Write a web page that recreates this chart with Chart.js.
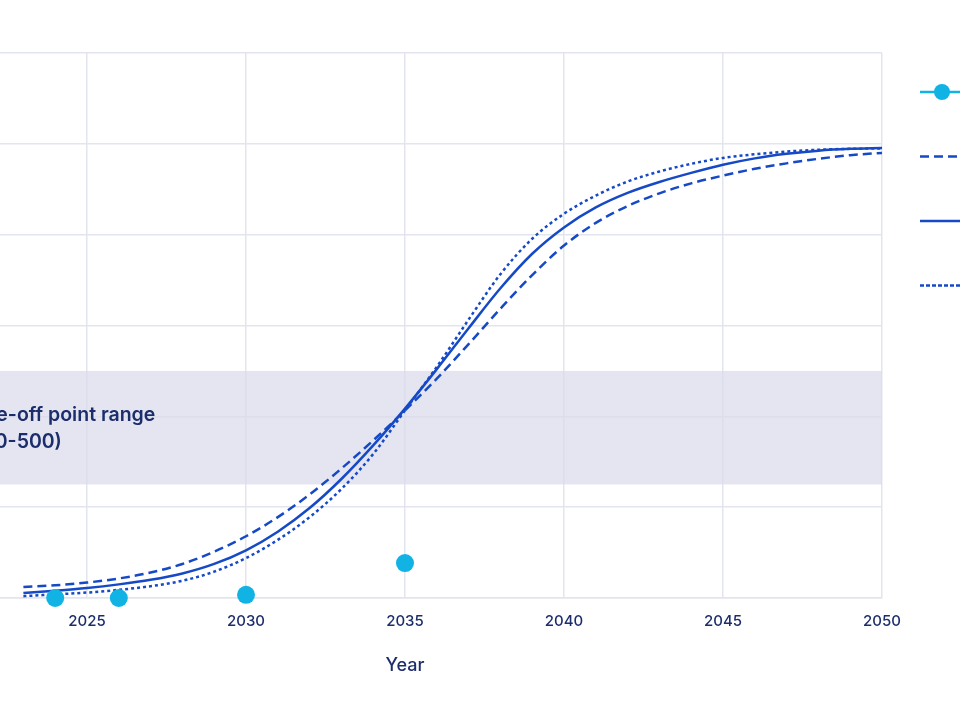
<!DOCTYPE html>
<html>
<head>
<meta charset="utf-8">
<script src="https://cdn.jsdelivr.net/npm/chart.js@4.4.1/dist/chart.umd.min.js"></script>
<style>
  html, body { margin: 0; padding: 0; background: #fff; overflow: hidden; width: 960px; height: 720px; }
  #wrap { position: absolute; left: -200px; top: 0; width: 1360px; height: 720px; }
</style>
</head>
<body>
<div id="wrap"><canvas id="chart" width="1360" height="720"></canvas></div>
<script>
// scenario curves, one value per year
const years = [2023, 2024, 2025, 2026, 2027, 2028, 2029, 2030, 2031, 2032, 2033, 2034, 2035, 2036,
               2037, 2038, 2039, 2040, 2041, 2042, 2043, 2044, 2045, 2046, 2047, 2048, 2049, 2050];
const slowValues = [24, 28, 34, 43, 56, 75, 102, 136, 178, 228, 285, 347, 413, 483,
                    559, 637, 711, 776, 826, 863, 891, 913, 930, 945, 957, 967, 975, 980];
const baseValues = [11, 16, 22, 30, 40, 54, 75, 105, 146, 198, 262, 336, 417, 504,
                    594, 682, 758, 816, 860, 892, 916, 936, 954, 968, 978, 985, 989, 991];
const fastValues = [4, 8, 12, 18, 26, 38, 58, 88, 128, 178, 240, 317, 413, 509,
                    613, 713, 791, 846, 886, 917, 939, 956, 969, 977, 983, 987, 989, 990];

// observed points
const observedYears = [2024, 2026, 2030, 2035];
const observedValues = [0, 0, 7, 77];

const seriesLabels = ['Observed', 'Slow scenario', 'Base scenario', 'Fast scenario'];
const bandRange = [250, 500];
const bandLabel = ['Take-off point range', '(250-500)'];

const navy = '#1c2d6c';
const blue = '#1649c6';
const cyan = '#10b3e3';
const gridColor = '#e3e5ee';
const FONT = 'Inter, "Open Sans", sans-serif';

const toPoints = (xs, ys) => xs.map((x, i) => ({ x: x, y: ys[i] }));

const bandPlugin = {
  id: 'band',
  beforeDatasetsDraw(chart) {
    const { ctx, chartArea, scales: { y } } = chart;
    const top = y.getPixelForValue(bandRange[1]);
    const bottom = y.getPixelForValue(bandRange[0]);
    ctx.save();
    ctx.fillStyle = 'rgba(218,219,236,0.72)';
    ctx.fillRect(chartArea.left, top, chartArea.right - chartArea.left, bottom - top);
    ctx.fillStyle = navy;
    ctx.font = '600 19.5px ' + FONT;
    ctx.textBaseline = 'middle';
    const mid = (top + bottom) / 2;
    ctx.fillText(bandLabel[0], chartArea.left + 35, mid - 13);
    ctx.fillText(bandLabel[1], chartArea.left + 35, mid + 14);
    ctx.restore();
  }
};

// legend on the right, drawn by hand so the first item can show line + dot
const legendPlugin = {
  id: 'sideLegend',
  afterDraw(chart) {
    const { ctx, chartArea } = chart;
    const x0 = chartArea.right + 38;
    ctx.save();
    chart.data.datasets.forEach((ds, i) => {
      const yy = 92 + i * 64.5;
      ctx.strokeStyle = ds.borderColor;
      ctx.lineWidth = 2.5;
      ctx.setLineDash(ds.legendDash || []);
      ctx.beginPath();
      ctx.moveTo(x0, yy);
      ctx.lineTo(x0 + 44, yy);
      ctx.stroke();
      if (ds.showLine === false) {
        ctx.fillStyle = ds.pointBackgroundColor;
        ctx.beginPath();
        ctx.arc(x0 + 22, yy, 8, 0, Math.PI * 2);
        ctx.fill();
      }
      ctx.setLineDash([]);
      ctx.fillStyle = navy;
      ctx.font = '16px ' + FONT;
      ctx.textBaseline = 'middle';
      ctx.fillText(ds.label, x0 + 58, yy);
    });
    ctx.restore();
  }
};

new Chart(document.getElementById('chart'), {
  type: 'line',
  data: {
    datasets: [
      {
        label: seriesLabels[0],
        data: toPoints(observedYears, observedValues),
        showLine: false,
        borderColor: cyan,
        pointBackgroundColor: cyan,
        pointBorderWidth: 0,
        pointRadius: 9,
        clip: false
      },
      {
        label: seriesLabels[1],
        data: toPoints(years, slowValues),
        borderColor: blue,
        borderWidth: 2.5,
        borderDash: [9, 5],
        legendDash: [9, 5],
        pointRadius: 0,
        cubicInterpolationMode: 'monotone'
      },
      {
        label: seriesLabels[2],
        data: toPoints(years, baseValues),
        borderColor: blue,
        borderWidth: 2.5,
        pointRadius: 0,
        cubicInterpolationMode: 'monotone'
      },
      {
        label: seriesLabels[3],
        data: toPoints(years, fastValues),
        borderColor: blue,
        borderWidth: 2.5,
        borderDash: [3, 3],
        legendDash: [4, 2],
        pointRadius: 0,
        cubicInterpolationMode: 'monotone'
      }
    ]
  },
  options: {
    responsive: false,
    animation: false,
    layout: { padding: { left: 28, right: 278, top: 53, bottom: 22 } },
    plugins: { legend: { display: false }, tooltip: { enabled: false } },
    scales: {
      x: {
        type: 'linear',
        min: 2020,
        max: 2050,
        afterFit: (s) => { s.height = 100; },
        grid: { color: gridColor, lineWidth: 1.5, drawTicks: false },
        border: { color: gridColor, width: 1.5 },
        ticks: {
          stepSize: 5,
          padding: 14,
          color: navy,
          font: { family: FONT, size: 15, weight: 500 },
          callback: (v) => String(v)
        },
        title: {
          display: true,
          text: 'Year',
          color: navy,
          font: { family: FONT, size: 18, weight: 500 },
          padding: { bottom: 22 }
        }
      },
      y: {
        min: 0,
        max: 1200,
        afterFit: (s) => { s.width = 100; },
        grid: { color: gridColor, lineWidth: 1.5, drawTicks: false },
        border: { color: gridColor, width: 1.5 },
        ticks: {
          stepSize: 200,
          padding: 14,
          color: navy,
          font: { family: FONT, size: 15 }
        }
      }
    }
  },
  plugins: [bandPlugin, legendPlugin]
});
</script>
</body>
</html>
